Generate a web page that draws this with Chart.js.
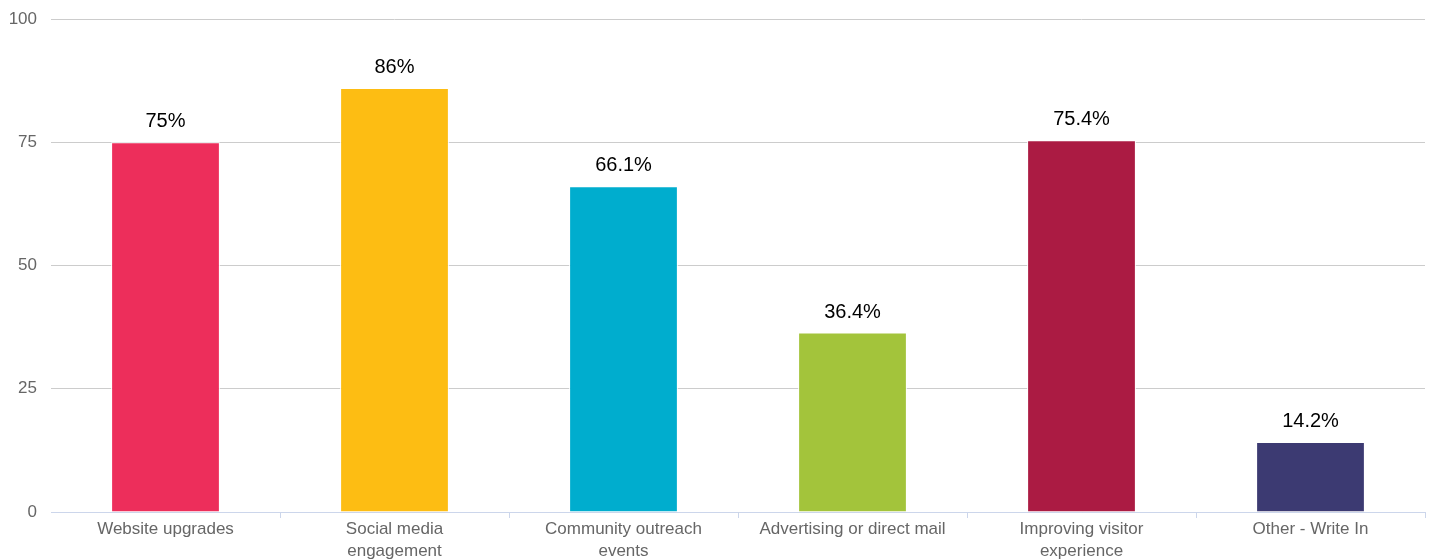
<!DOCTYPE html>
<html>
<head>
<meta charset="utf-8">
<script src="https://cdn.jsdelivr.net/npm/chart.js@4/dist/chart.umd.min.js"></script>
<style>
html,body{margin:0;padding:0;background:#fff;}
#wrap{width:1434px;height:559px;position:relative;}
</style>
</head>
<body>
<div id="wrap"><canvas id="c" width="1434" height="559"></canvas></div>
<script>
const categories = [
  "Website upgrades",
  ["Social media", "engagement"],
  ["Community outreach", "events"],
  "Advertising or direct mail",
  ["Improving visitor", "experience"],
  "Other - Write In"
];
const values = [75, 86, 66.1, 36.4, 75.4, 14.2];
const valueLabels = ["75%", "86%", "66.1%", "36.4%", "75.4%", "14.2%"];
const barColors = ["#ED2E5B", "#FDBD13", "#00ADCE", "#A3C43B", "#AB1B43", "#3C3A72"];
const yTicks = [0, 25, 50, 75, 100];

const FONT = "'Liberation Sans', Arial, Helvetica, sans-serif";

const labelPlugin = {
  id: 'valueLabels',
  afterDatasetsDraw(chart) {
    const ctx = chart.ctx;
    const meta = chart.getDatasetMeta(0);
    ctx.save();
    ctx.font = "20px " + FONT;
    ctx.fillStyle = "#000";
    ctx.textAlign = "center";
    ctx.textBaseline = "alphabetic";
    meta.data.forEach((bar, i) => {
      ctx.fillText(valueLabels[i], bar.x, bar.y - 15);
    });
    ctx.restore();
  }
};

new Chart(document.getElementById('c'), {
  type: 'bar',
  data: {
    labels: categories,
    datasets: [{
      data: values,
      backgroundColor: barColors,
      borderColor: "#ffffff",
      borderWidth: 1,
      barPercentage: 0.475,
      categoryPercentage: 1
    }]
  },
  options: {
    responsive: false,
    animation: false,
    layout: { padding: { top: 19, right: 9, left: 0, bottom: 0 } },
    plugins: { legend: { display: false }, tooltip: { enabled: false } },
    scales: {
      x: {
        offset: true,
        grid: {
          offset: true,
          drawOnChartArea: false,
          drawTicks: true,
          tickLength: 6,
          color: (c) => c.index === 0 ? 'rgba(0,0,0,0)' : '#ccd6eb'
        },
        border: { display: true, color: '#ccd6eb', width: 1 },
        ticks: {
          color: '#666666',
          font: { family: FONT, size: 17, lineHeight: 1.3 },
          padding: 0,
          maxRotation: 0,
          autoSkip: false
        },
        afterFit(scale) { scale.height = 47; }
      },
      y: {
        min: 0,
        max: 100,
        afterBuildTicks(scale) { scale.ticks = yTicks.map(v => ({ value: v })); },
        grid: { color: '#cccccc', drawTicks: false, lineWidth: 1 },
        border: { display: false },
        ticks: {
          color: '#666666',
          font: { family: FONT, size: 17 },
          padding: 14
        },
        afterFit(scale) { scale.width = 51; scale.paddingTop = 0; }
      }
    }
  },
  plugins: [labelPlugin]
});
</script>
</body>
</html>
